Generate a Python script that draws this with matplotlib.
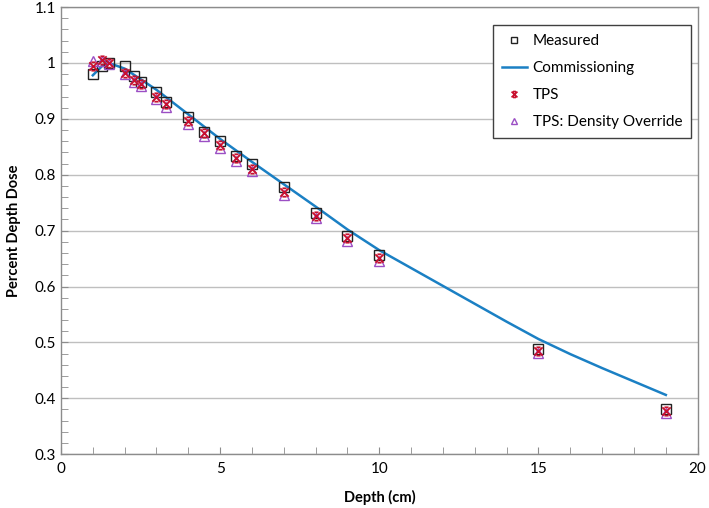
import matplotlib
matplotlib.use('Agg')
import matplotlib.pyplot as plt
from matplotlib.path import Path
from matplotlib.ticker import MultipleLocator

plt.rcParams['font.family'] = ['Lato', 'DejaVu Sans']

# depths (cm) of the measured points
depth = [1, 1.3, 1.5, 2, 2.3, 2.5, 3, 3.3, 4, 4.5, 5, 5.5, 6, 7, 8, 9, 10, 15, 19]
measured = [0.980, 0.995, 1.000, 0.994, 0.976, 0.966, 0.948, 0.930, 0.904, 0.877,
            0.860, 0.833, 0.820, 0.778, 0.732, 0.690, 0.657, 0.489, 0.381]
tps = [0.995, 1.006, 1.000, 0.982, 0.970, 0.962, 0.940, 0.926, 0.897, 0.874,
       0.853, 0.830, 0.811, 0.770, 0.727, 0.686, 0.651, 0.485, 0.378]
tps_override = [1.004, 1.004, 0.998, 0.980, 0.966, 0.958, 0.936, 0.922, 0.891, 0.870,
                0.848, 0.825, 0.806, 0.764, 0.722, 0.682, 0.646, 0.481, 0.373]

# commissioning curve
comm_depth = [1, 1.3, 1.5, 2, 3, 4, 5, 6, 7, 8, 9, 10, 11, 12, 13, 14, 15, 16, 17, 18, 19]
comm_pdd = [0.978, 0.995, 1.000, 0.990, 0.952, 0.908, 0.864, 0.823, 0.783, 0.743,
            0.702, 0.665, 0.633, 0.601, 0.569, 0.537, 0.506, 0.479, 0.454, 0.430, 0.406]

# excel style star: an x with short bars top and bottom
star = Path([(-1, -1), (1, 1), (-1, 1), (1, -1),
             (-0.5, 1), (0.5, 1), (-0.5, -1), (0.5, -1)],
            [Path.MOVETO, Path.LINETO, Path.MOVETO, Path.LINETO,
             Path.MOVETO, Path.LINETO, Path.MOVETO, Path.LINETO])

fig = plt.figure(figsize=(7.09, 5.08), dpi=100)
ax = fig.add_axes([0.086, 0.106, 0.898, 0.880])

ax.plot(depth, measured, linestyle='none', marker='s', markersize=7,
        markerfacecolor='none', markeredgecolor='#222222', markeredgewidth=1.0,
        label='Measured', zorder=3)
ax.plot(comm_depth, comm_pdd, color='#1b80c4', linewidth=1.8,
        label='Commissioning', zorder=2)
ax.plot(depth, tps, linestyle='none', marker=star, markersize=6,
        markerfacecolor='none', markeredgecolor='#c8102e', markeredgewidth=1.3,
        label='TPS', zorder=4)
ax.plot(depth, tps_override, linestyle='none', marker='^', markersize=7,
        markerfacecolor='none', markeredgecolor='#9b4fc4', markeredgewidth=1.0,
        label='TPS: Density Override', zorder=3)

ax.set_xlim(0, 20)
ax.set_ylim(0.3, 1.1)
ax.xaxis.set_major_locator(MultipleLocator(5))
ax.xaxis.set_minor_locator(MultipleLocator(1))
ax.yaxis.set_minor_locator(MultipleLocator(0.02))
ax.set_yticks([0.3, 0.4, 0.5, 0.6, 0.7, 0.8, 0.9, 1.0, 1.1])
ax.set_yticklabels(['0.3', '0.4', '0.5', '0.6', '0.7', '0.8', '0.9', '1', '1.1'])

ax.grid(True, axis='y', which='major', color='#bfbfbf', linewidth=1.0)
ax.set_axisbelow(True)
for s in ax.spines.values():
    s.set_color('#8c8c8c')
    s.set_linewidth(1.0)
ax.tick_params(which='both', direction='in', color='#8c8c8c', labelsize=11, length=5)
ax.tick_params(axis='x', pad=6)

ax.set_xlabel('Depth (cm)', fontsize=10.5, fontweight='bold', labelpad=10)
ax.set_ylabel('Percent Depth Dose', fontsize=10.5, fontweight='bold', labelpad=10)

leg = ax.legend(loc='upper right', bbox_to_anchor=(0.99, 0.96), fontsize=11,
                frameon=True, fancybox=False, edgecolor='#404040',
                framealpha=1, handlelength=1.6, labelspacing=0.85,
                borderpad=0.6, handletextpad=0.4, borderaxespad=0,
                markerscale=0.7)
leg.get_frame().set_linewidth(1.0)

plt.savefig('out.png', dpi=100)
plt.close()
